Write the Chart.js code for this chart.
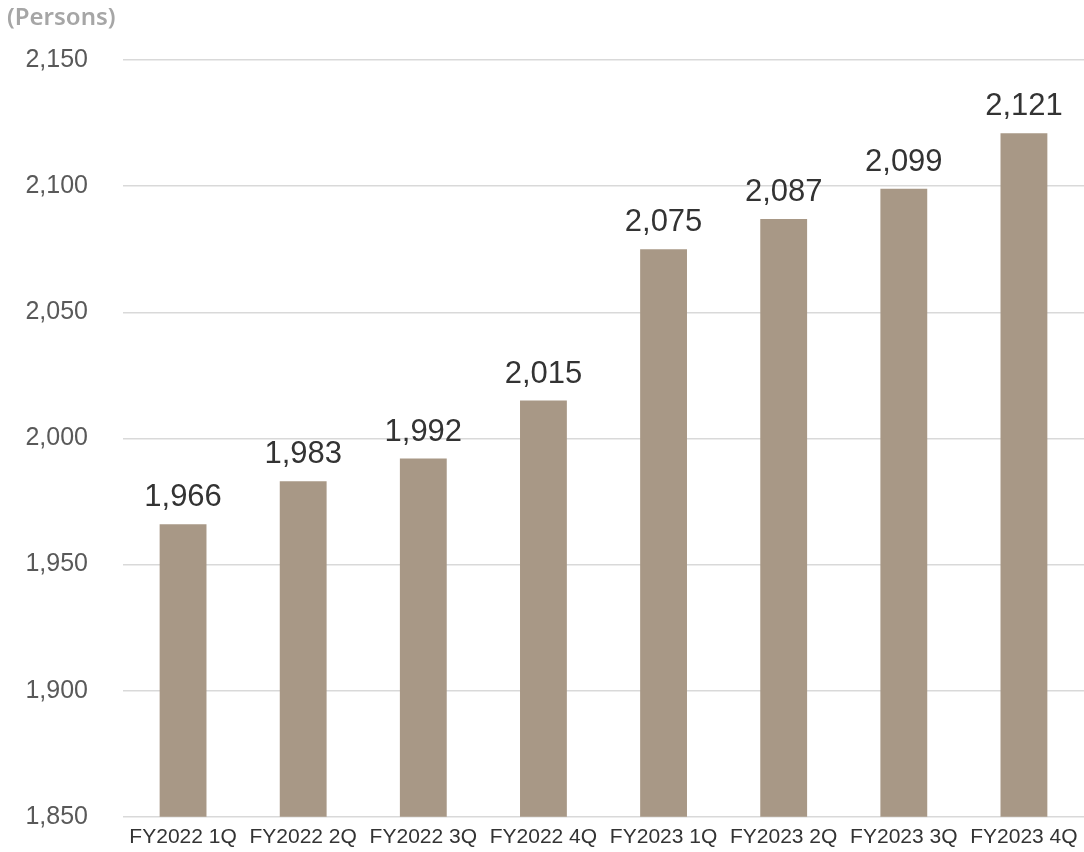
<!DOCTYPE html>
<html>
<head>
<meta charset="utf-8">
<script src="https://cdn.jsdelivr.net/npm/chart.js@4"></script>
<style>
  html, body { margin: 0; padding: 0; background: #fff; }
  #wrap { position: relative; width: 1084px; height: 852px; }
</style>
</head>
<body>
<div id="wrap"><canvas id="staffChart"></canvas></div>
<script>
    // headcount per quarter
    var quarters = ['FY2022 1Q', 'FY2022 2Q', 'FY2022 3Q', 'FY2022 4Q', 'FY2023 1Q', 'FY2023 2Q', 'FY2023 3Q', 'FY2023 4Q'];
    var persons = [1966, 1983, 1992, 2015, 2075, 2087, 2099, 2121];
    var unitLabel = '(Persons)';

    // number above each bar + unit text in the corner
    var barLabels = {
        id: 'barLabels',
        afterDatasetsDraw: function (chart) {
            var ctx = chart.ctx;
            var meta = chart.getDatasetMeta(0);
            ctx.save();
            ctx.fillStyle = '#333333';
            ctx.font = '31px "Liberation Sans", Arial, sans-serif';
            ctx.textAlign = 'center';
            ctx.textBaseline = 'bottom';
            meta.data.forEach(function (bar, i) {
                ctx.fillText(persons[i].toLocaleString('en-US'), bar.x, bar.y - 11);
            });
            ctx.fillStyle = '#a6a6a6';
            ctx.font = '600 24px "Noto Sans", sans-serif';
            ctx.textAlign = 'left';
            ctx.textBaseline = 'middle';
            ctx.fillText(unitLabel, 7, 18);
            ctx.restore();
        }
    };

    var ctx = document.getElementById('staffChart').getContext('2d');
    var myChart = new Chart(ctx, {
        type: 'bar',
        data: {
            labels: quarters,
            datasets: [{
                data: persons,
                backgroundColor: '#a89886',
                barPercentage: 0.39,
                categoryPercentage: 1.0
            }]
        },
        options: {
            responsive: true,
            maintainAspectRatio: false,
            animation: false,
            layout: { padding: { top: 60, right: 0, left: 0, bottom: 0 } },
            plugins: {
                legend: { display: false },
                tooltip: { enabled: false }
            },
            scales: {
                x: {
                    grid: { display: false, tickLength: 6 },
                    border: { display: false },
                    ticks: {
                        color: '#333333',
                        font: { family: '"Liberation Sans", Arial, sans-serif', size: 21 },
                        padding: 2,
                        maxRotation: 0,
                        autoSkip: false
                    }
                },
                y: {
                    min: 1850,
                    max: 2150,
                    grid: { color: '#d9d9d9', lineWidth: 1.5, drawTicks: false },
                    border: { display: false },
                    // fixed axis width; the wide tick padding should not push the plot up
                    afterFit: function (scale) {
                        scale.width = 123;
                        scale.paddingTop = 0;
                        scale.paddingBottom = 0;
                    },
                    ticks: {
                        stepSize: 50,
                        color: '#595959',
                        padding: 35,
                        font: { family: '"Liberation Sans", Arial, sans-serif', size: 25 },
                        callback: function (v) { return v.toLocaleString('en-US'); }
                    }
                }
            }
        },
        plugins: [barLabels]
    });
</script>
</body>
</html>
